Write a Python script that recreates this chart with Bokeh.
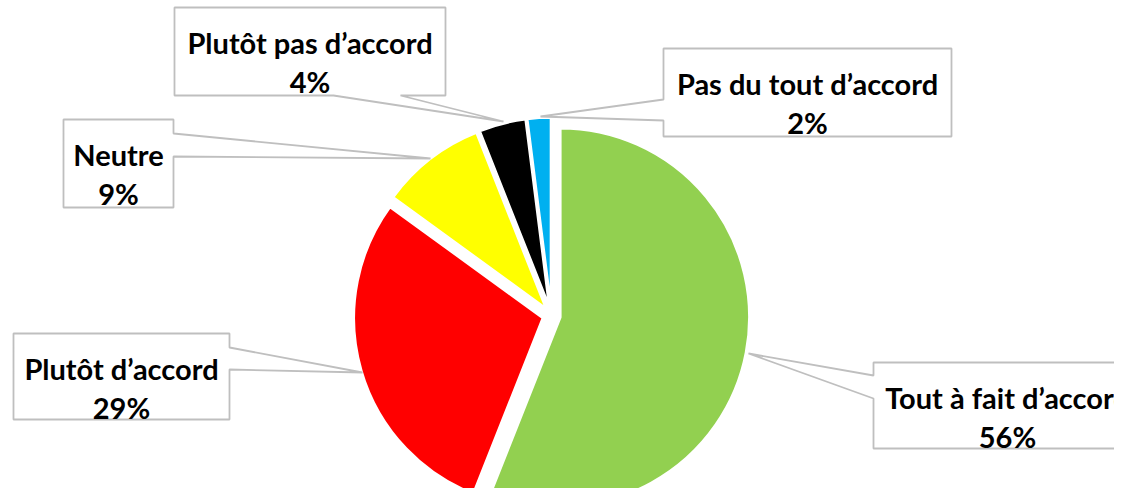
import math
from bokeh.plotting import figure
from bokeh.models import Range1d, ColumnDataSource
from bokeh.core.properties import value
from bokeh.embed import file_html
from bokeh.resources import INLINE

# ---- data ----
categories = ["Tout à fait d’accord", "Plutôt d’accord", "Neutre",
              "Plutôt pas d’accord", "Pas du tout d’accord"]
values = [56, 29, 9, 4, 2]
pct_labels = ["56%", "29%", "9%", "4%", "2%"]
colors = ["#92D050", "#FF0000", "#FFFF00", "#000000", "#00B0F0"]

# ---- layout (picture pixel coordinates) ----
CX, CY, R, EXPLODE = 551.0, 315.0, 189.0, 9.0
# box: left, top, right, bottom, pointer side, base start, base end, tip x, tip y
callouts = [
    (873, 362, 1141, 448, "left", 375, 398, 748, 353),
    (13, 333, 229, 419, "right", 347, 369, 362, 372),
    (63, 119, 173, 207, "right", 133, 156, 430, 158),
    (174, 7, 445, 95, "bottom", 333, 400, 503, 121),
    (663, 48, 951, 136, "left", 99, 120, 540, 116),
]

W, H = 1114, 488
p = figure(width=W, height=H, output_backend="svg", toolbar_location=None,
           x_range=Range1d(0, W), y_range=Range1d(-H, 0),
           min_border=0, background_fill_color="white",
           border_fill_color="white")
p.axis.visible = False
p.grid.visible = False
p.outline_line_color = None

total = float(sum(values))
xs, ys, starts, ends = [], [], [], []
cum = 0.0
for v in values:
    a = cum / total
    b = (cum + v) / total
    cum += v
    mid = math.pi / 2 - 2 * math.pi * (a + b) / 2
    xs.append(CX + EXPLODE * math.cos(mid))
    ys.append(-CY + EXPLODE * math.sin(mid))
    starts.append(math.pi / 2 - 2 * math.pi * b)
    ends.append(math.pi / 2 - 2 * math.pi * a)

src = ColumnDataSource(dict(x=xs, y=ys, s=starts, e=ends, c=colors))
p.wedge(x="x", y="y", radius=R, start_angle="s", end_angle="e",
        direction="anticlock", fill_color="c", line_color="white",
        line_width=2.5, source=src)

px, py = [], []
tx, ty1, ty2, t1, t2 = [], [], [], [], []
for i, (l, t, r, b, side, b1, b2, tipx, tipy) in enumerate(callouts):
    if side == "bottom":
        pts = [(l, t), (r, t), (r, b), (b2, b), (tipx, tipy), (b1, b), (l, b)]
    elif side == "left":
        pts = [(l, t), (r, t), (r, b), (l, b), (l, b2), (tipx, tipy), (l, b1)]
    else:
        pts = [(l, t), (r, t), (r, b1), (tipx, tipy), (r, b2), (r, b), (l, b)]
    px.append([q[0] for q in pts])
    py.append([-q[1] for q in pts])
    tx.append((l + r) / 2)
    ty1.append(-(t + 35))
    ty2.append(-(t + 74))
    t1.append(categories[i])
    t2.append(pct_labels[i])

p.patches(px, py, fill_color="white", line_color="#BFBFBF", line_width=1.8)

common = dict(text_align="center", text_baseline="alphabetic",
              text_font=value("Lato"), text_font_style="bold",
              text_font_size="29px", text_color="#000000")
p.text(x=tx, y=ty1, text=t1, **common)
p.text(x=tx, y=ty2, text=t2, **common)

open("out.html", "w").write(file_html(p, INLINE))
